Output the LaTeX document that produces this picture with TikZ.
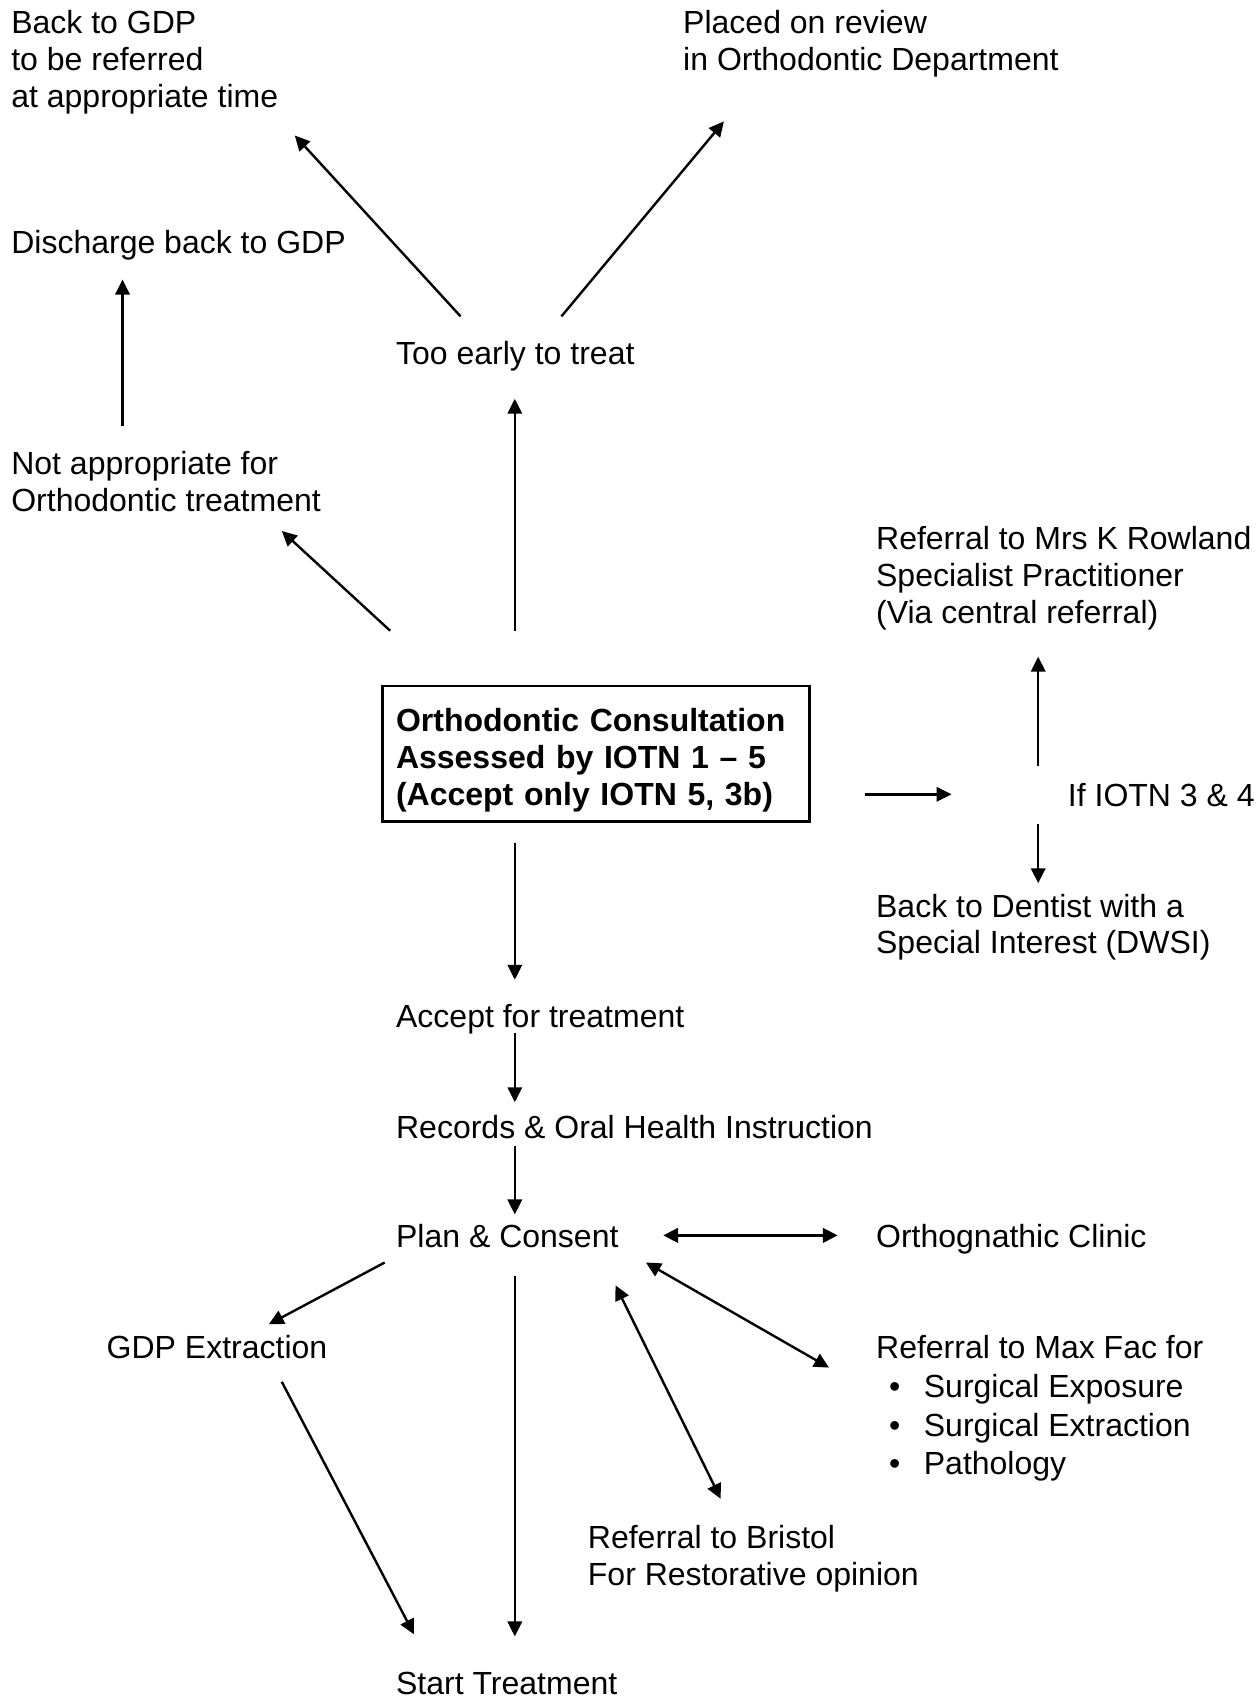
\documentclass[tikz,border=0pt]{standalone}
\usepackage{fontspec}
\setmainfont{Liberation Sans}
\usetikzlibrary{arrows.meta, positioning}

\begin{document}
\begin{tikzpicture}[
    x=0.375pt, y=-0.375pt,
    txt/.style={anchor=base west, inner sep=0pt, align=left, yshift=-0.8pt,
                font=\fontsize{12pt}{13.8pt}\selectfont},
    cbox/.style={draw, line width=1.1pt, align=left, text width=150pt,
                 inner xsep=4.9pt, minimum height=50.8pt,
                 font=\fontsize{12pt}{13.8pt}\selectfont\bfseries},
    myarr/.style={-{Triangle[length=5.6pt,width=5.4pt]}, line width=0.9pt},
    dblarr/.style={{Triangle[length=5.6pt,width=5.4pt]}-{Triangle[length=5.6pt,width=5.4pt]}, line width=0.9pt},
]
\useasboundingbox (0,0) rectangle (1256,1699);
%% -- Text nodes (base = last line) --
\node[txt](gdpback)at(10.8,105.3){Back to GDP\\to be referred\\at appropriate time};
\node[txt](review)at(682.7,68.5){Placed on review\\in Orthodontic Department};
\node[txt](discharge)at(10.8,251.7){Discharge back to GDP};
\node[txt](early)at(395.6,362.2){Too early to treat};
\node[txt](notappr)at(10.8,509.5){Not appropriate for\\Orthodontic treatment};
\node[txt](rowland)at(875.6,621.1){Referral to Mrs K Rowland\\Specialist Practitioner\\(Via central referral)};
\node[cbox](consult)at(596,753.7){\rule{0pt}{13.7pt}Orthodontic Consultation\\Assessed by IOTN 1 -- 5\\(Accept only IOTN 5, 3b)};
\node[txt](iotn)at(1067.4,804.3){If IOTN 3 \& 4};
\node[txt](dwsi)at(875.6,951.7){Back to Dentist with a\\Special Interest (DWSI)};
\node[txt](accept)at(395.6,1025.4){Accept for treatment};
\node[txt](records)at(395.6,1135.9){Records \& Oral Health Instruction};
\node[txt](plan)at(395.6,1245.4){Plan \& Consent};
\node[txt](ortho)at(875.6,1245.4){Orthognathic Clinic};
\node[txt](gdpext)at(106.2,1356){GDP Extraction};
\node[txt](maxfac)at(875.6,1472.8){Referral to Max Fac for\\[0.8pt]
  \hspace*{4.9pt}\makebox[13pt][l]{•}Surgical Exposure\\[0.8pt]
  \hspace*{4.9pt}\makebox[13pt][l]{•}Surgical Extraction\\[0.8pt]
  \hspace*{4.9pt}\makebox[13pt][l]{•}Pathology};
\node[txt](bristol)at(587.4,1583.5){Referral to Bristol\\For Restorative opinion};
\node[txt](start)at(395.6,1691.9){Start Treatment};
%% -- Arrow ends --
\coordinate(a1s)at(122.5,425.9);  \coordinate(a1e)at(122.5,279.6);
\coordinate(a2s)at(460.6,316.4);  \coordinate(a2e)at(294.8,135.5);
\coordinate(a3s)at(561.4,316.4);  \coordinate(a3e)at(723.9,121.4);
\coordinate(a4s)at(514.8,630.7);  \coordinate(a4e)at(514.8,398.8);
\coordinate(a5s)at(390.1,630.7);  \coordinate(a5e)at(281.8,531);
\coordinate(a6s)at(864.8,794.3);  \coordinate(a6e)at(951.5,794.3);
\coordinate(a7s)at(1038.2,766.2); \coordinate(a7e)at(1038.2,656.7);
\coordinate(a8s)at(1038.2,823.6); \coordinate(a8e)at(1038.2,883.2);
\coordinate(a9s)at(514.8,843.1);  \coordinate(a9e)at(514.8,979.7);
\coordinate(a10s)at(514.8,1032.8); \coordinate(a10e)at(514.8,1102.2);
\coordinate(a11s)at(514.8,1146.2); \coordinate(a11e)at(514.8,1214.4);
\coordinate(a12s)at(663.2,1235.4); \coordinate(a12e)at(837.7,1235.4);
\coordinate(a13s)at(384.7,1262.5); \coordinate(a13e)at(268.8,1324.3);
\coordinate(a14s)at(514.8,1275.5); \coordinate(a14e)at(514.8,1636.4);
\coordinate(a15s)at(281.8,1381.8); \coordinate(a15e)at(414,1634.3);
\coordinate(a16s)at(615.5,1285.3); \coordinate(a16e)at(720.7,1498.8);
\coordinate(a17s)at(645.9,1262.5); \coordinate(a17e)at(829,1367.6);
%% -- Arrows --
\foreach \i in {1,...,11,13,14,15}{
  \draw[myarr](a\i s)--(a\i e);
}
\draw[dblarr,line width=1.2pt](a12s)--(a12e);
\foreach \i in {16,17}{
  \draw[dblarr](a\i s)--(a\i e);
}
\end{tikzpicture}
\end{document}
